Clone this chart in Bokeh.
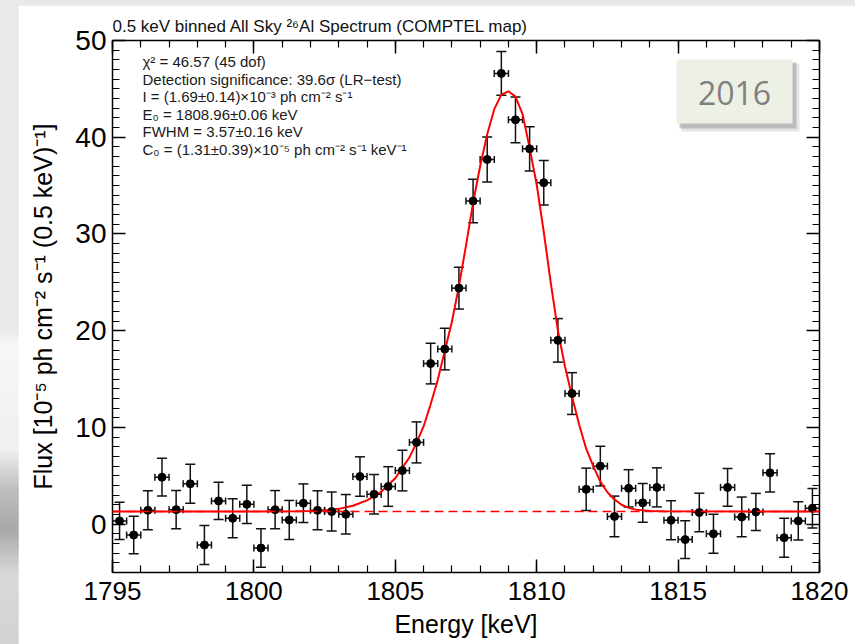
from bokeh.plotting import figure
from bokeh.layouts import column
from bokeh.models import (ColumnDataSource, Whisker, TeeHead, LinearAxis,
                          SingleIntervalTicker, Range1d, Label, BoxAnnotation, Span)
from bokeh.embed import file_html
from bokeh.resources import INLINE

# ---- spectrum: 0.5 keV bins ----
energy = [1795.25, 1795.75, 1796.25, 1796.75, 1797.25, 1797.75, 1798.25, 1798.75,
          1799.25, 1799.75, 1800.25, 1800.75, 1801.25, 1801.75, 1802.25, 1802.75,
          1803.25, 1803.75, 1804.25, 1804.75, 1805.25, 1805.75, 1806.25, 1806.75,
          1807.25, 1807.75, 1808.25, 1808.75, 1809.25, 1809.75, 1810.25, 1810.75,
          1811.25, 1811.75, 1812.25, 1812.75, 1813.25, 1813.75, 1814.25, 1814.75,
          1815.25, 1815.75, 1816.25, 1816.75, 1817.25, 1817.75, 1818.25, 1818.75,
          1819.25, 1819.75]
flux = [0.33, -1.12, 1.43, 4.85, 1.50, 4.17, -2.16, 2.40, 0.60, 2.05,
        -2.47, 1.50, 0.43, 2.16, 1.43, 1.30, 1.02, 4.92, 3.09, 3.89,
        5.54, 8.45, 16.6, 18.1, 24.4, 33.4, 37.7, 46.6, 41.8, 38.8,
        35.3, 19.0, 13.5, 3.6, 6.0, 0.8, 3.7, 2.2, 3.8, 0.4,
        -1.6, 1.2, -1.0, 3.8, 0.75, 1.26, 5.3, -1.4, 0.33, 1.64]
flux_err = [1.92, 1.93, 2.02, 1.95, 1.97, 2.02, 2.02, 1.93, 2.02, 1.98,
            2.00, 1.97, 2.02, 2.00, 2.02, 2.02, 2.04, 2.04, 2.04, 2.05,
            2.10, 2.12, 2.10, 2.15, 2.16, 2.25, 2.33, 2.25, 2.37, 2.28,
            2.30, 2.25, 2.16, 2.19, 2.05, 2.10, 1.93, 2.00, 2.02, 2.02,
            1.95, 2.00, 2.02, 1.95, 2.05, 1.92, 1.97, 2.02, 1.98, 2.05]
bin_half = 0.25

# ---- fitted line model + constant continuum ----
fit_energy = [1795.0, 1801.5, 1802.0, 1802.5, 1803.0, 1803.5, 1804.0, 1804.5,
              1805.0, 1805.5, 1805.75, 1806.0, 1806.25, 1806.5, 1806.75, 1807.0,
              1807.25, 1807.5, 1807.75, 1808.0, 1808.25, 1808.5, 1808.75, 1809.0,
              1809.25, 1809.5, 1809.75, 1810.0, 1810.25, 1810.5, 1810.75, 1811.0,
              1811.25, 1811.5, 1811.75, 1812.0, 1812.25, 1812.5, 1812.75, 1813.0,
              1813.25, 1813.5, 1814.0, 1814.5, 1820.0]
fit_flux = [1.31, 1.32, 1.35, 1.42, 1.58, 1.90, 2.45, 3.35,
            4.75, 6.90, 8.40, 10.1, 12.4, 14.9, 17.9, 20.9,
            24.6, 28.8, 33.2, 37.0, 40.3, 42.9, 44.4, 44.75,
            44.2, 42.4, 38.9, 35.1, 30.2, 24.9, 20.0, 16.3,
            13.2, 10.3, 7.8, 6.0, 4.4, 3.3, 2.55, 2.0,
            1.68, 1.50, 1.36, 1.32, 1.31]
continuum = 1.31

x_ticks_major = 5
y_ticks_major = 10

# ---- page / frame geometry (pixels, page coordinates) ----
PAGE_W, PAGE_H = 855, 644
OFF_X, OFF_Y = 18, 5                 # white chart panel sits on a grey slide
W, H = PAGE_W - OFF_X, PAGE_H - OFF_Y
FL, FR, FT, FB = 112, 819, 40, 572   # plot frame edges on the page
X0, X1 = 1795.0, 1820.0
Y0, Y1 = -5.0, 50.0


def sx(px):
    return X0 + (px - FL) * (X1 - X0) / (FR - FL)


def sy(py):
    return Y1 - (py - FT) * (Y1 - Y0) / (FB - FT)


FONT = "Liberation Sans"

p = figure(width=W, height=H, output_backend="svg", toolbar_location=None,
           x_range=Range1d(X0, X1), y_range=Range1d(Y0, Y1),
           min_border_left=FL - OFF_X, min_border_right=PAGE_W - FR,
           min_border_top=FT - OFF_Y, min_border_bottom=PAGE_H - FB,
           background_fill_color="white", border_fill_color="white")
p.margin = (OFF_Y, 0, 0, OFF_X)
p.grid.visible = False
p.outline_line_color = None

p.title.text = "0.5 keV binned All Sky \u00b2\u2076Al Spectrum (COMPTEL map)"
p.title.text_font = FONT
p.title.text_font_size = "17px"
p.title.text_font_style = "normal"
p.title.text_color = "#111111"
p.title.align = "left"
p.title.standoff = 10

# extra axes carrying only ticks
p.add_layout(LinearAxis(), "above")
p.add_layout(LinearAxis(), "right")

for ax in p.xaxis:
    ax.ticker = SingleIntervalTicker(interval=x_ticks_major, num_minor_ticks=5)
for ax in p.yaxis:
    ax.ticker = SingleIntervalTicker(interval=y_ticks_major, num_minor_ticks=10)

for ax in p.axis:
    ax.axis_line_color = "black"
    ax.axis_line_width = 1.5
    ax.major_tick_line_color = "black"
    ax.major_tick_line_width = 1.5
    ax.minor_tick_line_color = "black"
    ax.minor_tick_line_width = 1.2
    ax.major_tick_out = 0
    ax.minor_tick_out = 0
    ax.major_tick_in = 13
    ax.minor_tick_in = 7
    ax.major_label_text_font = FONT
    ax.major_label_text_color = "black"

bottom, top = p.below[0], p.above[0]
left, right = p.left[0], p.right[0]

bottom.major_label_text_font_size = "26px"
bottom.major_label_standoff = 9
bottom.axis_label = "Energy [keV]"
bottom.axis_label_text_font = FONT
bottom.axis_label_text_font_size = "25px"
bottom.axis_label_text_font_style = "normal"
bottom.axis_label_text_color = "black"
bottom.axis_label_standoff = 7

left.major_label_text_font_size = "28px"
left.major_label_standoff = 6
left.axis_label = "Flux [10\u207b\u2075 ph cm\u207b\u00b2 s\u207b\u00b9 (0.5 keV)\u207b\u00b9]"
left.axis_label_text_font = FONT
left.axis_label_text_font_size = "25px"
left.axis_label_text_font_style = "normal"
left.axis_label_text_color = "black"
left.axis_label_standoff = 15

for ax in (top, right):
    ax.major_label_text_font_size = "1px"
    ax.major_label_text_alpha = 0
    ax.major_label_standoff = 0

# ---- continuum (dashed) and fitted model ----
p.add_layout(Span(location=continuum, dimension="width", line_color="red",
                  line_width=1.6, line_dash="9 5"))
p.line(fit_energy, fit_flux, line_color="red", line_width=2.0)

# ---- data with error bars ----
src = ColumnDataSource(dict(
    e=energy, f=flux,
    f_lo=[f - s for f, s in zip(flux, flux_err)],
    f_hi=[f + s for f, s in zip(flux, flux_err)],
    e_lo=[e - bin_half for e in energy],
    e_hi=[e + bin_half for e in energy],
))
p.add_layout(Whisker(source=src, base="e", lower="f_lo", upper="f_hi", dimension="height",
                     line_color="#111111", line_width=1.5,
                     upper_head=TeeHead(size=10, line_color="#111111", line_width=1.5),
                     lower_head=TeeHead(size=10, line_color="#111111", line_width=1.5)))
p.add_layout(Whisker(source=src, base="f", lower="e_lo", upper="e_hi", dimension="width",
                     line_color="#111111", line_width=1.5,
                     upper_head=TeeHead(size=7, line_color="#111111", line_width=1.5),
                     lower_head=TeeHead(size=7, line_color="#111111", line_width=1.5)))
p.scatter("e", "f", source=src, size=8, color="black")

# ---- fit summary block ----
fit_lines = [
    "\u03c7\u00b2 = 46.57 (45 dof)",
    "Detection significance: 39.6\u03c3 (LR\u2212test)",
    "I = (1.69\u00b10.14)\u00d710\u207b\u00b3 ph cm\u207b\u00b2 s\u207b\u00b9",
    "E\u2080 = 1808.96\u00b10.06 keV",
    "FWHM = 3.57\u00b10.16 keV",
    "C\u2080 = (1.31\u00b10.39)\u00d710\u207b\u2075 ph cm\u207b\u00b2 s\u207b\u00b9 keV\u207b\u00b9",
]
for i, txt in enumerate(fit_lines):
    p.add_layout(Label(x=sx(142), y=sy(61 + 17.6 * i), text=txt,
                       text_font=FONT, text_font_size="15px", text_color="#1a1a1a",
                       text_baseline="middle", text_align="left"))

# ---- year badge ----
p.add_layout(BoxAnnotation(left=sx(681), right=sx(799), top=sy(63), bottom=sy(131),
                           fill_color="#9a9a9a", fill_alpha=0.25, line_color=None))
p.add_layout(BoxAnnotation(left=sx(679), right=sx(796), top=sy(62), bottom=sy(128),
                           fill_color="#8a8a8a", fill_alpha=0.45, line_color=None))
p.add_layout(BoxAnnotation(left=sx(676), right=sx(792), top=sy(59), bottom=sy(123),
                           fill_color="#edf0e5", fill_alpha=1.0, line_color=None))
p.add_layout(Label(x=sx(734), y=sy(92), text="2016", text_font="Open Sans",
                   text_font_size="32px", text_color="#7f7f7f",
                   text_align="center", text_baseline="middle"))

# grey slide behind the white chart panel, darker sky-map patch lower left
slide_bg = ("linear-gradient(180deg, #e9e9e9 0px, #e9e9e9 330px, #f7f7f7 345px, "
            "#efefef 450px, #bdbdbd 490px, #a9a9a9 530px, #d9d9d9 575px, "
            "#d2d2d2 644px)")
page = column(p, width=PAGE_W, height=PAGE_H,
              styles={"background": slide_bg})

open("out.html", "w").write(file_html(page, INLINE))
